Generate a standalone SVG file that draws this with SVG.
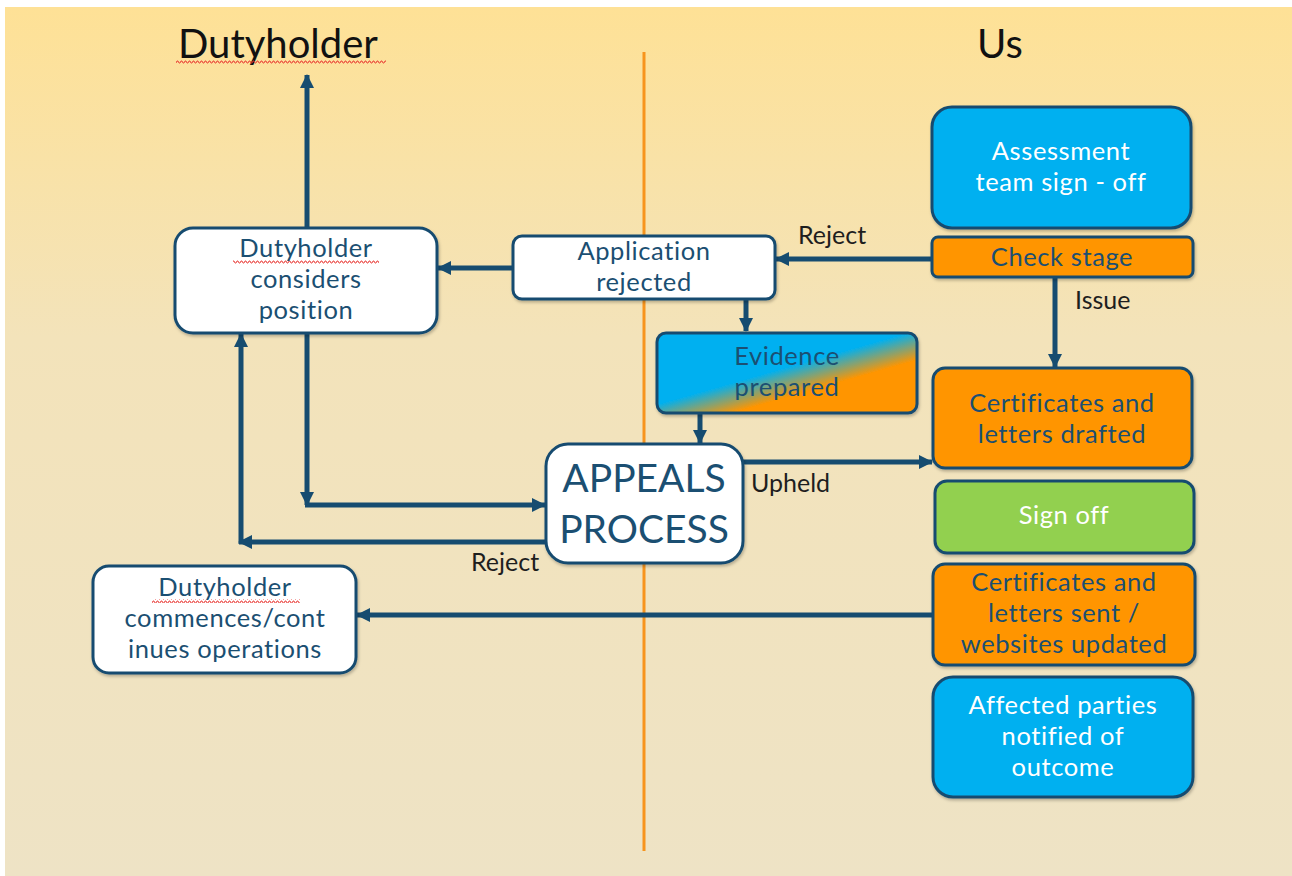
<svg xmlns="http://www.w3.org/2000/svg" width="1292" height="876" viewBox="0 0 1292 876">
  <defs>
    <linearGradient id="bg" x1="0" y1="0" x2="0" y2="1">
      <stop offset="0" stop-color="#FEE196"/>
      <stop offset="0.38" stop-color="#F3E3BA"/>
      <stop offset="1" stop-color="#EEE3C5"/>
    </linearGradient>
    <linearGradient id="evgrad" gradientUnits="userSpaceOnUse" x1="791" y1="366" x2="799" y2="394">
      <stop offset="0" stop-color="#00B0F0"/>
      <stop offset="1" stop-color="#FF9500"/>
    </linearGradient>
    <pattern id="squig" width="4" height="4" patternUnits="userSpaceOnUse">
      <path d="M0,3 L1,1 L2,1 L3,3 L4,3" fill="none" stroke="#E8302C" stroke-width="0.9"/>
    </pattern>
    <filter id="sh" x="-10%" y="-10%" width="120%" height="130%">
      <feDropShadow dx="1" dy="2" stdDeviation="1.5" flood-color="#000" flood-opacity="0.25"/>
    </filter>
    <marker id="ah" markerUnits="userSpaceOnUse" markerWidth="14" markerHeight="14" viewBox="0 0 14 14" refX="13" refY="7" orient="auto">
      <path d="M0,0 L14,7 L0,14 z" fill="#164C70"/>
    </marker>
    <style>
      .box { stroke: #164C70; stroke-width: 3; filter: url(#sh); }
      .white { fill: #FFFFFF; }
      .blue { fill: #00B0F0; }
      .orange { fill: #FF9500; }
      .green { fill: #92D050; }
      .t { font-family: Lato, "Open Sans", "Liberation Sans", sans-serif; font-size: 25.5px; letter-spacing: 0.6px; text-anchor: middle; fill: #1B4F72; }
      .tw { fill: #FFFFFF; }
      .lbl { font-family: Lato, "Open Sans", "Liberation Sans", sans-serif; font-size: 25px; fill: #1E1E1E; }
      .head { font-family: Lato, "Open Sans", "Liberation Sans", sans-serif; font-size: 40px; fill: #111111; }
      .big { font-size: 39px; letter-spacing: 0; }
      .con { fill: none; stroke: #164C70; stroke-width: 5; }
      .arr { marker-end: url(#ah); }
    </style>
  </defs>

  <rect x="0" y="0" width="1292" height="876" fill="#FFFFFF"/>
  <rect x="5" y="7" width="1287" height="869" fill="url(#bg)"/>

  <line x1="644" y1="52" x2="644" y2="851" stroke="#F7941D" stroke-width="3"/>

  <g id="headings">
    <text class="head" x="178" y="58">Dutyholder</text>
    <rect x="176" y="60" width="210" height="4" fill="url(#squig)"/>
    <text class="head" x="977" y="58">Us</text>
  </g>

  <g id="connectors">
    <line class="con arr" x1="307" y1="228" x2="307" y2="75"/>
    <line class="con arr" x1="932" y1="259" x2="776" y2="259"/>
    <line class="con arr" x1="513" y1="268" x2="438" y2="268"/>
    <line class="con arr" x1="746" y1="299" x2="746" y2="331"/>
    <line class="con arr" x1="1055" y1="277" x2="1055" y2="367"/>
    <line class="con arr" x1="700" y1="413" x2="700" y2="443"/>
    <line class="con arr" x1="743" y1="462" x2="932" y2="462"/>
    <line class="con arr" x1="307" y1="333" x2="307" y2="505"/>
    <line class="con arr" x1="305" y1="505" x2="545" y2="505"/>
    <line class="con arr" x1="546" y1="542" x2="239" y2="542"/>
    <line class="con arr" x1="241" y1="544" x2="241" y2="334"/>
    <line class="con arr" x1="933" y1="615" x2="357" y2="615"/>
    <text class="lbl" x="798" y="244">Reject</text>
    <text class="lbl" x="1075" y="309">Issue</text>
    <text class="lbl" x="751" y="492">Upheld</text>
    <text class="lbl" x="471" y="571">Reject</text>
  </g>

  <g id="assessment">
    <rect class="box blue" x="932" y="107" width="259" height="121" rx="20"/>
    <text class="t tw"><tspan x="1061" y="160">Assessment</tspan><tspan x="1061" y="191">team sign - off</tspan></text>
  </g>

  <g id="check-stage">
    <rect class="box orange" x="932" y="237" width="261" height="40" rx="6"/>
    <text class="t" x="1062" y="266">Check stage</text>
  </g>

  <g id="certs-drafted">
    <rect class="box orange" x="933" y="368" width="259" height="100" rx="12"/>
    <text class="t"><tspan x="1062" y="412">Certificates and</tspan><tspan x="1062" y="443">letters drafted</tspan></text>
  </g>

  <g id="sign-off">
    <rect class="box green" x="935" y="481" width="259" height="72" rx="12"/>
    <text class="t tw" x="1064" y="524">Sign off</text>
  </g>

  <g id="certs-sent">
    <rect class="box orange" x="933" y="564" width="262" height="101" rx="12"/>
    <text class="t"><tspan x="1064" y="591">Certificates and</tspan><tspan x="1064" y="622">letters sent /</tspan><tspan x="1064" y="653">websites updated</tspan></text>
  </g>

  <g id="affected">
    <rect class="box blue" x="933" y="677" width="260" height="120" rx="20"/>
    <text class="t tw"><tspan x="1063" y="714">Affected parties</tspan><tspan x="1063" y="745">notified of</tspan><tspan x="1063" y="776">outcome</tspan></text>
  </g>

  <g id="app-rejected">
    <rect class="box white" x="513" y="236" width="262" height="63" rx="9"/>
    <text class="t"><tspan x="644" y="260">Application</tspan><tspan x="644" y="291">rejected</tspan></text>
  </g>

  <g id="evidence">
    <rect class="box" fill="url(#evgrad)" x="657" y="333" width="260" height="80" rx="9"/>
    <text class="t"><tspan x="787" y="365">Evidence</tspan><tspan x="787" y="396">prepared</tspan></text>
  </g>

  <g id="appeals">
    <rect class="box white" x="546" y="444" width="197" height="119" rx="22"/>
    <text class="t big"><tspan x="644" y="492">APPEALS</tspan><tspan x="644" y="543">PROCESS</tspan></text>
  </g>

  <g id="considers">
    <rect class="box white" x="175" y="228" width="262" height="105" rx="18"/>
    <rect x="233" y="260" width="146" height="4" fill="url(#squig)"/>
    <text class="t"><tspan x="306" y="257">Dutyholder</tspan><tspan x="306" y="288">considers</tspan><tspan x="306" y="319">position</tspan></text>
  </g>

  <g id="commences">
    <rect class="box white" x="93" y="566" width="263" height="107" rx="16"/>
    <rect x="152" y="599" width="148" height="4" fill="url(#squig)"/>
    <text class="t"><tspan x="225" y="596">Dutyholder</tspan><tspan x="225" y="627">commences/cont</tspan><tspan x="225" y="658">inues operations</tspan></text>
  </g>
</svg>
